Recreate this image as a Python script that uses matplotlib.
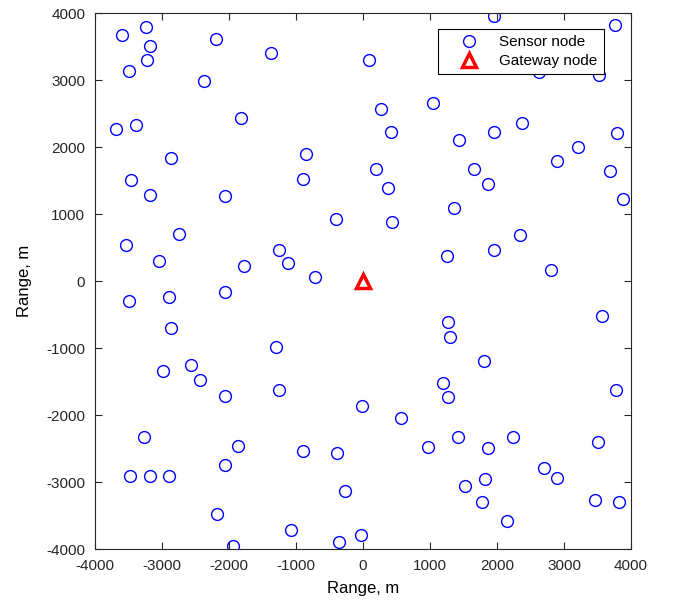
import matplotlib
matplotlib.use('Agg')
import matplotlib.pyplot as plt

plt.rcParams['font.family'] = ['Liberation Sans', 'DejaVu Sans']
plt.rcParams['axes.unicode_minus'] = False

# sensor node positions (m)
sensor_x = [
    -3590, -3240, -3180, -3220, -3490, -2190, -1380, -2380, 90, -3690,
    -3390, -1820, -850, -2870, -3460, -890, -3180, -2060, -410, -2750,
    -3540, -3040, -1250, -1120, -1770, -720,
    1960, 3760, 2630, 3520, 1050, 270, 420, 2380, 1950, 1430,
    3790, 3210, 2900, 200, 1660, 1870, 3680, 3875, 375, 1355,
    430, 2340, 1960, 1255, 2810,
    -3500, -2890, -2065, -2870, -1305, -2570, -2980, -2440, -1250, -2060,
    -10, -3270, -1870, -895, -385, -2060, -3485, -3175, -2900, -275,
    -2175, -1070, -35, -355, -1935,
    1265, 1295, 3560, 1800, 1190, 1275, 3770, 560, 970, 1420,
    1870, 2240, 3500, 2700, 2890, 1820, 1515, 1770, 3465, 3815,
    2145,
]
sensor_y = [
    3670, 3790, 3510, 3300, 3130, 3610, 3410, 2990, 3300, 2270,
    2330, 2440, 1900, 1835, 1510, 1530, 1290, 1270, 930, 700,
    540, 300, 460, 265, 225, 60,
    3955, 3815, 3120, 3080, 2660, 2560, 2230, 2360, 2230, 2105,
    2215, 2005, 1785, 1665, 1665, 1450, 1645, 1220, 1390, 1085,
    875, 685, 460, 380, 160,
    -300, -245, -165, -705, -985, -1255, -1340, -1480, -1625, -1715,
    -1865, -2335, -2455, -2535, -2565, -2750, -2905, -2910, -2915, -3130,
    -3470, -3710, -3795, -3900, -3955,
    -605, -830, -525, -1200, -1525, -1725, -1630, -2040, -2470, -2330,
    -2490, -2335, -2410, -2785, -2935, -2955, -3065, -3300, -3265, -3305,
    -3585,
]
gateway_x = [0]
gateway_y = [0]

fig = plt.figure(figsize=(6.73, 6.08), dpi=100)
ax = fig.add_axes([0.1412, 0.097, 0.7964, 0.8816])

ax.plot(sensor_x, sensor_y, 'o', linestyle='none', markersize=8.5,
        markerfacecolor='none', markeredgecolor='#0000ff',
        markeredgewidth=1.0, label='Sensor node')
ax.plot(gateway_x, gateway_y, '^', linestyle='none', markersize=10,
        markerfacecolor='none', markeredgecolor='#ff0000',
        markeredgewidth=2.5, label='Gateway node')

ax.set_xlim(-4000, 4000)
ax.set_ylim(-4000, 4000)
ax.set_xticks(range(-4000, 4001, 1000))
ax.set_yticks(range(-4000, 4001, 1000))
ax.set_xlabel('Range, m', fontsize=12, labelpad=6)
ax.set_ylabel('Range, m', fontsize=12, labelpad=10)
ax.tick_params(direction='in', top=True, right=True, labelsize=11,
               length=5, pad=7, color='#262626', labelcolor='#262626')
for sp in ax.spines.values():
    sp.set_color('#262626')
    sp.set_linewidth(0.8)

leg = ax.legend(loc='upper left', bbox_to_anchor=(0.640, 0.970),
                borderaxespad=0, fontsize=11, fancybox=False, framealpha=1,
                borderpad=0.4, labelspacing=0.33, handletextpad=0.33,
                handlelength=3.27)
leg.get_frame().set_edgecolor('black')
leg.get_frame().set_linewidth(0.8)

fig.savefig('out.png', dpi=100)
